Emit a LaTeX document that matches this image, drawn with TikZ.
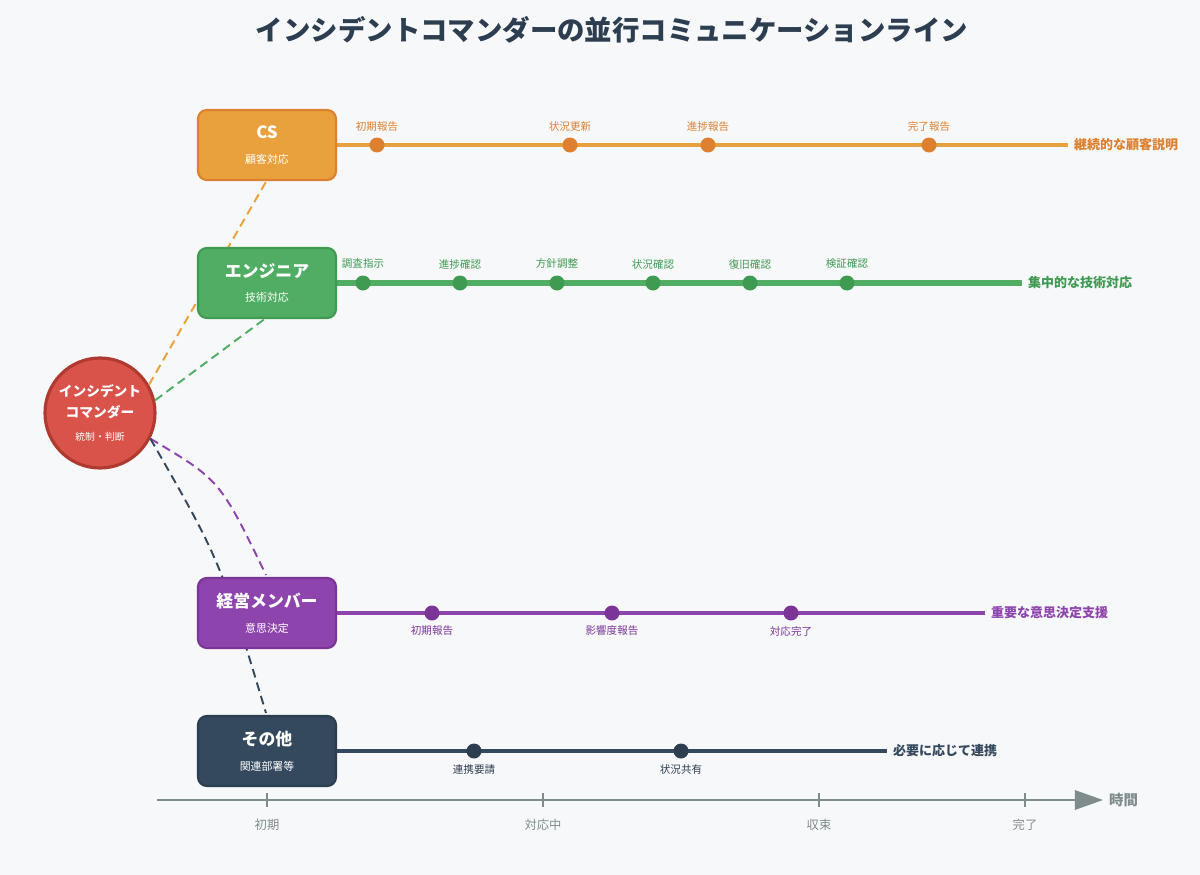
\documentclass[tikz,border=0pt]{standalone}
\usepackage{fontspec}
\setmainfont{Noto Sans CJK JP}
\usetikzlibrary{arrows.meta}
\definecolor{bg}{HTML}{F7F8FA}
\definecolor{ink}{HTML}{2C3E50}
\definecolor{cso}{HTML}{E8A13C}
\definecolor{csd}{HTML}{DD8030}
\definecolor{eng}{HTML}{52AD64}
\definecolor{engd}{HTML}{3F9A52}
\definecolor{mgm}{HTML}{8E44AD}
\definecolor{mgmd}{HTML}{7A3596}
\definecolor{oth}{HTML}{34495E}
\definecolor{othd}{HTML}{2C3E50}
\definecolor{cmd}{HTML}{D9534A}
\definecolor{cmdd}{HTML}{B03A30}
\definecolor{axis}{HTML}{7F8C8D}
\newcommand\bigt{\bfseries\fontsize{9.6}{12}\selectfont}
\newcommand\subt{\mdseries\fontsize{6.2}{8}\selectfont}
\newcommand\cmdt{\bfseries\fontsize{7.8}{9.5}\selectfont}
\begin{document}
\begin{tikzpicture}[x=0.02cm,y=-0.02cm]
\tikzstyle{team}=[rounded corners=5pt,minimum width=138*0.02cm,minimum height=70*0.02cm,line width=1.2pt,text=white,align=center,inner sep=0pt]
\tikzstyle{dot}=[circle,minimum size=15*0.02cm,inner sep=0pt]
\tikzstyle{small}=[font=\fontsize{6}{7}\selectfont]
\tikzstyle{goal}=[right,font=\bfseries\fontsize{7.4}{9}\selectfont]
\tikzstyle{link}=[line width=1.1pt,dash pattern=on 5pt off 3pt]
\fill[bg] (0,0) rectangle (1200,875);

% Titre
\node[ink,font=\bfseries\fontsize{15.6}{18}\selectfont] (title) at (612,30) {インシデントコマンダーの並行コミュニケーションライン};

% Lignes de temps
\coordinate (csend) at (1068,145);
\coordinate (engend) at (1022,283);
\coordinate (mgmend) at (985,613);
\coordinate (othend) at (887,751);
\draw[cso,line width=2.6pt] (267,145) -- (csend);
\draw[eng,line width=3.8pt] (267,283) -- (engend);
\draw[mgm,line width=1.8pt] (267,613) -- (mgmend);
\draw[oth,line width=1.8pt] (267,751) -- (othend);
\node[goal,csd] at (csend) {継続的な顧客説明};
\node[goal,engd] at (engend) {集中的な技術対応};
\node[goal,mgm] at (mgmend) {重要な意思決定支援};
\node[goal,oth] at (othend) {必要に応じて連携};

\foreach \x/\t [count=\i] in {377/初期報告,570/状況更新,708/進捗報告,929/完了報告}{
  \node[dot,fill=csd] (c\i) at (\x,145) {};
  \node[small,csd] at (\x,127) {\t};}
\foreach \x/\t [count=\i] in {363/調査指示,460/進捗確認,557/方針調整,653/状況確認,750/復旧確認,847/検証確認}{
  \node[dot,fill=engd] (e\i) at (\x,283) {};
  \node[small,engd] at (\x,264) {\t};}
\foreach \x/\t [count=\i] in {432/初期報告,612/影響度報告,791/対応完了}{
  \node[dot,fill=mgmd] (m\i) at (\x,613) {};
  \node[small,mgmd] at (\x,631) {\t};}
\foreach \x/\t [count=\i] in {474/連携要請,681/状況共有}{
  \node[dot,fill=othd] (o\i) at (\x,751) {};
  \node[small,othd] at (\x,769) {\t};}

% Commandant
\node[circle,fill=cmd,draw=cmdd,line width=1.8pt,minimum size=110*0.02cm,inner sep=0pt,text=white,align=center] (cmd) at (100,413) {\cmdt インシデント\\\cmdt コマンダー\\[1pt]\mdseries\fontsize{5.6}{8}\selectfont 統制・判断};

% Equipes
\coordinate (csa) at (267,180);
\coordinate (enga) at (266,318);
\coordinate (mgma) at (266,575);
\coordinate (otha) at (266,713);
\draw[link,cso] (cmd.30) -- (csa);
\draw[link,eng] (cmd.13) -- (enga);
\draw[link,mgm] (cmd.-27) .. controls (220,480) .. (mgma);
\draw[link,oth] (cmd.-27) .. controls (220,560) .. (otha);

\node[team,fill=cso,draw=csd] (cs) at (267,145) {\bigt CS\\[2pt]\subt 顧客対応};
\node[team,fill=eng,draw=engd] (en) at (267,283) {\bigt エンジニア\\[2pt]\subt 技術対応};
\node[team,fill=mgm,draw=mgmd] (mg) at (267,613) {\bigt 経営メンバー\\[2pt]\subt 意思決定};
\node[team,fill=oth,draw=othd] (ot) at (267,751) {\bigt その他\\[2pt]\subt 関連部署等};

% Axe du temps
\coordinate (ax0) at (157,800);
\node[axis,right,font=\bfseries\fontsize{8.2}{10}\selectfont] (time) at (1103,800) {時間};
\draw[axis,line width=1.3pt,-{Triangle[length=16pt,width=11pt]}] (ax0) -- (time.west);
\foreach \x/\t [count=\i] in {267/初期,543/対応中,819/収束,1025/完了}{
  \draw[axis,line width=0.8pt] (\x,793) -- (\x,807);
  \node[axis,font=\fontsize{7}{8}\selectfont] (t\i) at (\x,825) {\t};}
\end{tikzpicture}
\end{document}
